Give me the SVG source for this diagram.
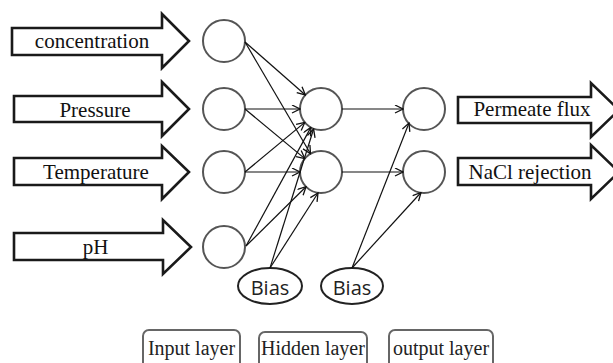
<svg xmlns="http://www.w3.org/2000/svg" width="613" height="363" viewBox="0 0 613 363">
<defs>
<marker id="ah" markerWidth="10" markerHeight="10" refX="9" refY="4.5" orient="auto" markerUnits="userSpaceOnUse">
<path d="M1,0.5 L9,4.5 L1,8.5" fill="none" stroke="#111" stroke-width="1.3"/>
</marker>
</defs>
<style>
.arrow{fill:#fff;stroke:#1a1a1a;stroke-width:2.6;stroke-linejoin:miter}
.node{fill:#fff;stroke:#555;stroke-width:2}
.bias{fill:#fff;stroke:#222;stroke-width:2}
.lbl{font-family:"Liberation Serif","Times New Roman",serif;font-size:21px;fill:#111}
.btxt{font-family:"Open Sans","Noto Sans",sans-serif;font-size:20px;fill:#222}
.box{fill:#fff;stroke:#666;stroke-width:2}
.ltxt{font-family:"Liberation Serif","Times New Roman",serif;font-size:20px;fill:#222}
.conn line{stroke:#111;stroke-width:1.2;marker-end:url(#ah)}
</style>
<rect width="613" height="363" fill="#fff"/>

<g id="in-concentration">
<polygon class="arrow" points="12,28 162,28 162,14 189,41 162,68 162,55 12,55"/>
<text class="lbl" x="92" y="48" text-anchor="middle">concentration</text>
</g>
<g id="in-pressure">
<polygon class="arrow" points="14,96 162,96 162,82 189,109 162,136 162,122 14,122"/>
<text class="lbl" x="95" y="117" text-anchor="middle">Pressure</text>
</g>
<g id="in-temperature">
<polygon class="arrow" points="14,158 162,158 162,146 189,172 162,199 162,185 14,185"/>
<text class="lbl" x="96" y="179" text-anchor="middle">Temperature</text>
</g>
<g id="in-ph">
<polygon class="arrow" points="14,233 163,233 163,220 191,247 163,274 163,260 14,260"/>
<text class="lbl" x="95.5" y="254" text-anchor="middle">pH</text>
</g>

<g id="out-flux">
<polygon class="arrow" points="458,97 591,97 591,83 619,110 591,137 591,123 458,123"/>
<text class="lbl" x="532" y="116" text-anchor="middle">Permeate flux</text>
</g>
<g id="out-nacl">
<polygon class="arrow" points="458,158 591,158 591,145 619,172 591,199 591,185 458,185"/>
<text class="lbl" x="530" y="179" text-anchor="middle">NaCl rejection</text>
</g>

<g id="i1"><circle class="node" cx="224" cy="41" r="21"/></g>
<g id="i2"><circle class="node" cx="224" cy="109" r="21"/></g>
<g id="i3"><circle class="node" cx="224" cy="172" r="21"/></g>
<g id="i4"><circle class="node" cx="224" cy="247" r="21"/></g>
<g id="h1"><circle class="node" cx="321" cy="109" r="21"/></g>
<g id="h2"><circle class="node" cx="321" cy="172" r="21"/></g>
<g id="o1"><circle class="node" cx="424" cy="109" r="21"/></g>
<g id="o2"><circle class="node" cx="424" cy="172" r="21"/></g>

<g id="bias1">
<ellipse class="bias" cx="270" cy="286" rx="32" ry="18"/>
<text class="btxt" x="270" y="295" text-anchor="middle">Bias</text>
</g>
<g id="bias2">
<ellipse class="bias" cx="352" cy="286" rx="31" ry="18"/>
<text class="btxt" x="352" y="295" text-anchor="middle">Bias</text>
</g>

<g id="connectors" class="conn">
<line x1="245" y1="42" x2="305.4" y2="95"/>
<line x1="245" y1="42" x2="310.5" y2="153.8"/>
<line x1="245" y1="109" x2="300" y2="109"/>
<line x1="245" y1="109" x2="304.8" y2="158.6"/>
<line x1="245" y1="172" x2="304.8" y2="122.4"/>
<line x1="245" y1="172" x2="300" y2="172"/>
<line x1="246" y1="246" x2="310.9" y2="127.4"/>
<line x1="246" y1="246" x2="306" y2="186.7"/>
<line x1="270" y1="268" x2="313.6" y2="129"/>
<line x1="270" y1="268" x2="318" y2="193"/>
<line x1="342" y1="109" x2="403" y2="109"/>
<line x1="342" y1="172" x2="403" y2="172"/>
<line x1="352" y1="268" x2="409" y2="123"/>
<line x1="352" y1="268" x2="421" y2="192.5"/>
</g>

<g id="layer-input">
<rect class="box" x="143" y="330" width="97" height="42" rx="6"/>
<text class="ltxt" x="191.5" y="355" text-anchor="middle">Input layer</text>
</g>
<g id="layer-hidden">
<rect class="box" x="259" y="332" width="108" height="40" rx="6"/>
<text class="ltxt" x="313" y="355" text-anchor="middle">Hidden layer</text>
</g>
<g id="layer-output">
<rect class="box" x="389" y="330" width="104" height="42" rx="6"/>
<text class="ltxt" x="441" y="355" text-anchor="middle">output layer</text>
</g>
</svg>
